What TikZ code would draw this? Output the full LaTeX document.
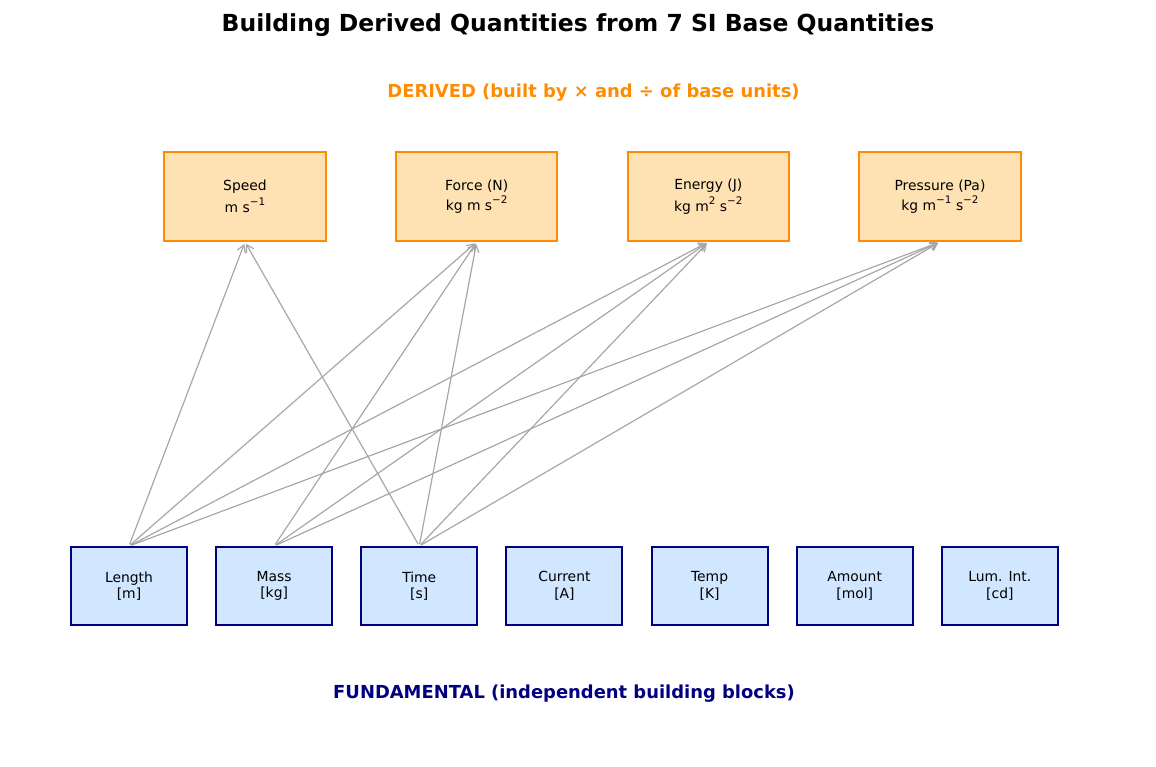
\documentclass[tikz,border=0pt]{standalone}
\usepackage{fontspec}
\setmainfont{DejaVu Sans}
\usepackage{tikz}
\usetikzlibrary{arrows.meta,positioning}
\definecolor{dorange}{HTML}{FF8C00}
\definecolor{dfill}{HTML}{FFE2B4}
\definecolor{bnavy}{HTML}{000080}
\definecolor{bfill}{HTML}{D0E7FF}
\definecolor{agray}{HTML}{A6A6A6}
\newcommand{\sups}[1]{\raisebox{0.9ex}{\fontsize{7.5}{8}\selectfont #1}}
\tikzset{
  derbox/.style={draw=dorange, line width=1.5pt, fill=dfill, minimum width=116pt, minimum height=64pt, inner sep=2pt, align=center, font=\fontsize{10}{12}\selectfont},
  basebox/.style={draw=bnavy, line width=1.5pt, fill=bfill, minimum width=83.5pt, minimum height=56pt, inner sep=2pt, align=center, font=\fontsize{10}{12}\selectfont},
  link/.style={-{Straight Barb[length=5pt,width=6pt]}, line width=0.85pt, draw=agray, shorten <=1.5pt, shorten >=1.5pt},
}
\begin{document}
\begin{tikzpicture}[x=0.72pt,y=-0.72pt]
  \useasboundingbox (0,0) rectangle (1156,766);
  \node[font=\fontsize{16.9}{19}\selectfont\bfseries](title) at (578,25){Building Derived Quantities from 7 SI Base Quantities};
  \node[font=\fontsize{12.9}{15}\selectfont\bfseries,text=dorange](dlab) at (593.5,93){DERIVED (built by × and ÷ of base units)};
  \node[font=\fontsize{12.9}{15}\selectfont\bfseries,text=bnavy](flab) at (564,694){FUNDAMENTAL (independent building blocks)};
  % derived quantities
  \node[derbox](spd) at (245,196.5){Speed\\[2pt] m s\sups{−1}};
  \node[derbox,right=49.3pt of spd](frc){Force (N)\\[2pt] kg m s\sups{−2}};
  \node[derbox,right=49.3pt of frc](enr){Energy (J)\\[2pt] kg m\sups{2} s\sups{−2}};
  \node[derbox,right=49.3pt of enr](prs){Pressure (Pa)\\[2pt] kg m\sups{−1} s\sups{−2}};
  % base quantities
  \node[basebox](len) at (129,586){Length\\{}[m]};
  \node[basebox,right=19.5pt of len](mas){Mass\\{}[kg]};
  \node[basebox,right=19.5pt of mas](tim){Time\\{}[s]};
  \node[basebox,right=19.5pt of tim](cur){Current\\{}[A]};
  \node[basebox,right=19.5pt of cur](tmp){Temp\\{}[K]};
  \node[basebox,right=19.5pt of tmp](amt){Amount\\{}[mol]};
  \node[basebox,right=19.5pt of amt](lum){Lum. Int.\\{}[cd]};
  % links
  \draw[link](len.north)--(spd.south);
  \draw[link](tim.north)--(spd.south);
  \draw[link](len.north)--(frc.south);
  \draw[link](mas.north)--(frc.south);
  \draw[link](tim.north)--(frc.south);
  \draw[link](len.north)--(enr.south);
  \draw[link](mas.north)--(enr.south);
  \draw[link](tim.north)--(enr.south);
  \draw[link](len.north)--(prs.south);
  \draw[link](mas.north)--(prs.south);
  \draw[link](tim.north)--(prs.south);
\end{tikzpicture}
\end{document}
